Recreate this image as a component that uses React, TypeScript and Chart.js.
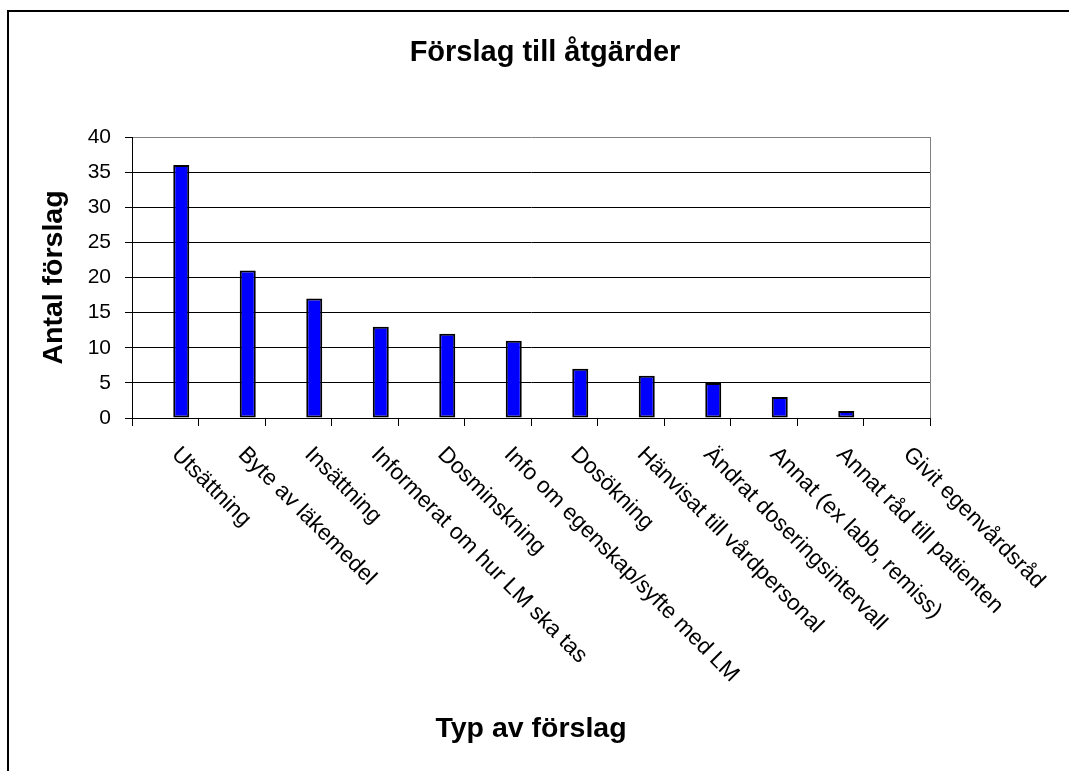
import React, { useEffect, useRef } from "react";
import { Chart, registerables } from "chart.js";

Chart.register(...registerables);

const chartTitle = "Förslag till åtgärder";
const xAxisTitle = "Typ av förslag";
const yAxisTitle = "Antal förslag";

const categories = [
  "Utsättning",
  "Byte av läkemedel",
  "Insättning",
  "Informerat om hur LM ska tas",
  "Dosminskning",
  "Info om egenskap/syfte med LM",
  "Dosökning",
  "Hänvisat till vårdpersonal",
  "Ändrat doseringsintervall",
  "Annat (ex labb, remiss)",
  "Annat råd till patienten",
  "Givit egenvårdsråd",
];
const counts = [36, 21, 17, 13, 12, 11, 7, 6, 5, 3, 1, 0];
// Two empty series (as in the original spreadsheet) that shift the bar within its group
const emptySeriesA: number[] = [];
const emptySeriesB: number[] = [];

const yMin = 0;
const yMax = 40;
const yStep = 5;

const FONT = '"Liberation Sans", Arial, sans-serif';

const decorPlugin = {
  id: "decor",
  afterDraw(chart: any) {
    const { ctx, chartArea, scales } = chart;
    const xs = scales.x;
    ctx.save();
    // outer frame (top and left visible)
    ctx.strokeStyle = "#000";
    ctx.lineWidth = 2;
    ctx.beginPath();
    ctx.moveTo(8, chart.height);
    ctx.lineTo(8, 11);
    ctx.lineTo(chart.width, 11);
    ctx.stroke();
    // plot area right border
    ctx.strokeStyle = "#808080";
    ctx.lineWidth = 1;
    const rx = Math.round(chartArea.right) + 0.5;
    ctx.beginPath();
    ctx.moveTo(rx, chartArea.top);
    ctx.lineTo(rx, chartArea.bottom);
    ctx.stroke();
    // chart title
    ctx.fillStyle = "#000";
    ctx.font = `bold 29px ${FONT}`;
    ctx.textAlign = "center";
    ctx.textBaseline = "alphabetic";
    ctx.fillText(chartTitle, (chartArea.left + chartArea.right) / 2 + 14, 61);
    // rotated category labels
    ctx.font = `22.6px ${FONT}`;
    ctx.textAlign = "left";
    ctx.textBaseline = "middle";
    categories.forEach((label, i) => {
      const px = xs.getPixelForValue(i);
      ctx.save();
      ctx.translate(px + 10, chartArea.bottom + 33);
      ctx.rotate(Math.PI / 4);
      ctx.fillText(label, 0, 0);
      ctx.restore();
    });
    ctx.restore();
  },
};

export default function App() {
  const canvasRef = useRef<HTMLCanvasElement | null>(null);

  useEffect(() => {
    document.body.style.margin = "0";
    const canvas = canvasRef.current;
    if (!canvas) return;
    const chart = new Chart(canvas, {
      type: "bar",
      data: {
        labels: categories,
        datasets: [
          { label: "A", data: emptySeriesA, backgroundColor: "transparent", borderWidth: 0 },
          { label: "B", data: emptySeriesB, backgroundColor: "transparent", borderWidth: 0 },
          {
            label: "Antal",
            data: counts,
            backgroundColor: "#0000FF",
            borderColor: "#000000",
            borderWidth: 2,
            borderSkipped: false,
          },
        ],
      },
      options: {
        responsive: false,
        animation: false,
        events: [],
        layout: { padding: { left: 30, right: 139, top: 137, bottom: 20 } },
        datasets: { bar: { categoryPercentage: 0.722, barPercentage: 1 } },
        plugins: {
          legend: { display: false },
          title: { display: false },
          tooltip: { enabled: false },
        },
        scales: {
          x: {
            offset: true,
            grid: {
              display: true,
              offset: true,
              drawOnChartArea: false,
              drawTicks: true,
              tickLength: 8,
              color: "#000",
              tickColor: "#000",
            },
            border: { display: true, color: "#000", width: 1 },
            ticks: { display: false },
            title: {
              display: true,
              text: xAxisTitle,
              color: "#000",
              font: { family: FONT, size: 28.5, weight: "bold" },
              padding: { top: 0, bottom: 5 },
            },
            afterFit: (scale: any) => {
              scale.height = 333;
            },
          },
          y: {
            min: yMin,
            max: yMax,
            grid: {
              color: (c: any) => (c.tick && c.tick.value === yMax ? "#808080" : "#000"),
              tickColor: "#000",
              tickLength: 7,
              lineWidth: 1,
            },
            border: { display: true, color: "#000", width: 1 },
            ticks: {
              stepSize: yStep,
              color: "#000",
              padding: 14,
              font: { family: FONT, size: 21 },
            },
            title: {
              display: true,
              text: yAxisTitle,
              color: "#000",
              font: { family: FONT, size: 28.5, weight: "bold" },
              padding: { top: 7, bottom: 0 },
            },
            afterFit: (scale: any) => {
              scale.width = 102;
            },
          },
        },
      },
      plugins: [decorPlugin],
    });
    return () => chart.destroy();
  }, []);

  return (
    <div style={{ width: 1069, height: 771, background: "#fff" }}>
      <canvas ref={canvasRef} width={1069} height={771} style={{ display: "block" }} />
    </div>
  );
}
